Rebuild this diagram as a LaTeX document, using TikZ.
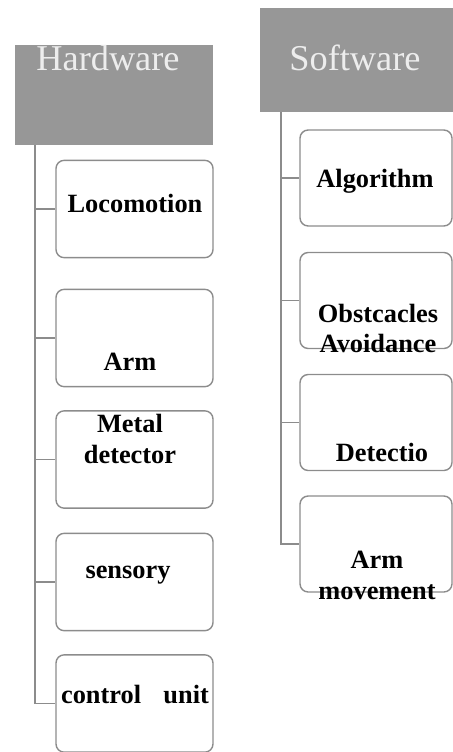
\documentclass[tikz,border=0pt]{standalone}
\usepackage{fontspec}
\setmainfont{Liberation Serif}

\definecolor{headgray}{HTML}{979797}
\definecolor{headtext}{HTML}{EDEDED}
\definecolor{linegray}{HTML}{8C8C8C}

\tikzstyle{head}=[rectangle, fill=headgray, inner sep=0pt]
\tikzstyle{headlabel}=[anchor=base, text=headtext, font=\fontsize{31}{33}\selectfont]
\tikzstyle{hwbox}=[rectangle, rounded corners=7pt, draw=linegray, line width=1.2pt, minimum width=4.71cm, minimum height=2.92cm, inner sep=0pt]
\tikzstyle{swbox}=[hwbox, minimum width=4.56cm, minimum height=2.88cm]
\tikzstyle{boxlabel}=[anchor=base, align=center, inner sep=0pt, font=\bfseries\fontsize{22.5}{24}\selectfont]
\tikzstyle{link}=[draw=linegray, line width=1.2pt]

\begin{document}
\begin{tikzpicture}[x=0.03cm, y=-0.03cm]
            \useasboundingbox (0,0) rectangle (453,752);
            % headers
            \node[head, minimum width=5.94cm, minimum height=3cm] at (114,95) (hw) {};
            \node[head, minimum width=5.79cm, minimum height=3.12cm] at (356.5,60) (sw) {};
            \node[headlabel] at (108,70) (hwt) {Hardware};
            \node[headlabel] at (355,70) (swt) {Software};
            % hardware side
            \node[hwbox] at (134.5,209) (loco) {};
            \node[hwbox] at (134.5,338) (arm) {};
            \node[hwbox] at (134.5,459.5) (metal) {};
            \node[hwbox] at (134.5,582) (sens) {};
            \node[hwbox] at (134.5,703.5) (ctrl) {};
            \node[boxlabel] at (135,212) (locot) {Locomotion};
            \node[boxlabel] at (130,370) (armt) {Arm};
            \node[boxlabel, font=\bfseries\fontsize{22.5}{26}\selectfont] at (130,463) (metalt) {Metal\\detector};
            \node[boxlabel] at (128,578) (senst) {sensory};
            \node[boxlabel] at (135,703) (ctrlt) {control\hspace{0.6em} unit};
            % software side
            \node[swbox] at (376,178) (algo) {};
            \node[swbox] at (376,300.5) (obst) {};
            \node[swbox] at (376,422.5) (detc) {};
            \node[swbox] at (376,544) (armm) {};
            \node[boxlabel] at (375,187) (algot) {Algorithm};
            \node[boxlabel, font=\bfseries\fontsize{22.5}{25}\selectfont] at (378,352) (obstt) {Obstcacles\\Avoidance};
            \node[boxlabel] at (382,461) (detct) {Detectio};
            \node[boxlabel, font=\bfseries\fontsize{22.5}{26}\selectfont] at (377,599) (armmt) {Arm\\movement};
            % trunks
            \coordinate (hwtop) at (35,145);
            \coordinate (swtop) at (281,112);
            \draw[link] (hwtop) |- (loco.west);
            \draw[link] (hwtop) |- (arm.west);
            \draw[link] (hwtop) |- (metal.west);
            \draw[link] (hwtop) |- (sens.west);
            \draw[link] (hwtop) |- (ctrl.west);
            \draw[link] (swtop) |- (algo.west);
            \draw[link] (swtop) |- (obst.west);
            \draw[link] (swtop) |- (detc.west);
            \draw[link] (swtop) |- (armm.west);
        \end{tikzpicture}
\end{document}
